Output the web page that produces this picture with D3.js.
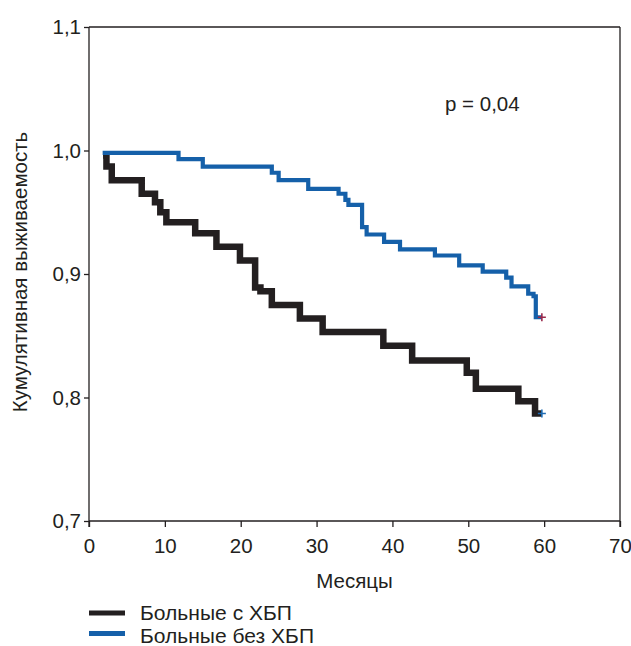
<!DOCTYPE html>
<meta charset="utf-8">
<head>
  <title>Kaplan-Meier</title>
</head>

<style>
body { margin: 0; background: #fff; }
text { font-family: "Liberation Sans", Arial, sans-serif; fill: #231f20; }
.axis path, .axis line { stroke: #231f20; stroke-width: 1.3; }
</style>

<body>
  <svg width="631" height="646"></svg>

  <script src="https://cdnjs.cloudflare.com/ajax/libs/d3/7.8.5/d3.min.js"></script>
  <script>
// months and cumulative survival
var ckdMonths = [1.85, 2.3, 3.0, 6.95, 8.7, 9.4, 10.2, 14.0, 16.8, 19.9, 21.9, 22.6, 24.1, 27.8, 30.8, 38.8, 42.6, 49.8, 51.0, 56.6, 58.8, 59.7]
var ckdSurv   = [0.996, 0.987, 0.976, 0.965, 0.958, 0.950, 0.942, 0.933, 0.922, 0.911, 0.889, 0.886, 0.875, 0.864, 0.853, 0.842, 0.830, 0.820, 0.807, 0.797, 0.787, 0.787]

var noCkdMonths = [1.8, 11.8, 15.0, 24.1, 25.0, 28.9, 32.9, 33.8, 34.2, 36.0, 36.6, 38.9, 41.0, 45.6, 48.8, 51.9, 55.0, 55.7, 57.9, 58.6, 58.9, 59.7]
var noCkdSurv   = [0.998, 0.993, 0.987, 0.982, 0.976, 0.969, 0.965, 0.960, 0.956, 0.938, 0.932, 0.926, 0.920, 0.915, 0.907, 0.902, 0.897, 0.890, 0.884, 0.882, 0.865, 0.865]

var xTicks = [0, 10, 20, 30, 40, 50, 60, 70]
var yTicks = [0.7, 0.8, 0.9, 1.0, 1.1]
var legendLabels = ['Больные с ХБП', 'Больные без ХБП']

var fs = 20.5

var svg = d3.select('svg')
var x = d3.scaleLinear().domain([0, 70]).range([89, 620])
var y = d3.scaleLinear().domain([0.7, 1.1]).range([521, 27])

var fmt = function(d) { return d3.format('.1f')(d).replace('.', ',') }

svg.append('g')
  .attr('class', 'axis')
  .attr('transform', 'translate(0,521)')
  .call(d3.axisBottom(x).tickValues(xTicks).tickSize(6).tickPadding(11).tickSizeOuter(0))
  .call(g => g.selectAll('text').attr('font-size', fs))
  .call(g => g.select('.domain').attr('d', 'M89,0H620'))

svg.append('g')
  .attr('class', 'axis')
  .attr('transform', 'translate(89,0)')
  .call(d3.axisLeft(y).tickValues(yTicks).tickFormat(fmt).tickSize(5).tickPadding(3).tickSizeOuter(0))
  .call(g => g.selectAll('text').attr('font-size', fs))
  .call(g => g.select('.domain').attr('d', 'M0,27V527'))

// top and right frame
svg.append('line').attr('x1', 89).attr('x2', 620).attr('y1', 27).attr('y2', 27)
  .attr('stroke', '#231f20').attr('stroke-width', 1.3)
svg.append('line').attr('x1', 620).attr('x2', 620).attr('y1', 27).attr('y2', 527)
  .attr('stroke', '#231f20').attr('stroke-width', 1.3)

var line = d3.line()
  .x(d => x(d[0]))
  .y(d => y(d[1]))
  .curve(d3.curveStepAfter)

var ckd = d3.zip(ckdMonths, ckdSurv)
var noCkd = d3.zip(noCkdMonths, noCkdSurv)

svg.append('path').datum(ckd).attr('d', line)
  .attr('fill', 'none').attr('stroke', '#231f20').attr('stroke-width', 6.5)
svg.append('path').datum(noCkd).attr('d', line)
  .attr('fill', 'none').attr('stroke', '#1560a9').attr('stroke-width', 4.2)

// censor marks at the ends
function plus(pt, color) {
  var cx = x(pt[0]), cy = y(pt[1])
  svg.append('path')
    .attr('d', 'M' + (cx - 4) + ',' + cy + 'H' + (cx + 4) + 'M' + cx + ',' + (cy - 4) + 'V' + (cy + 4))
    .attr('stroke', color).attr('stroke-width', 1.6)
}
plus(noCkd[noCkd.length - 1], '#9a2a4c')
plus(ckd[ckd.length - 1], '#1f6db5')

svg.append('text').attr('x', 445).attr('y', 111).attr('font-size', fs).text('p = 0,04')

svg.append('text').attr('x', x(35)).attr('y', 588).attr('text-anchor', 'middle')
  .attr('font-size', fs).text('Месяцы')

svg.append('text')
  .attr('transform', 'translate(27,' + 272 + ') rotate(-90)')
  .attr('text-anchor', 'middle').attr('font-size', fs)
  .text('Кумулятивная выживаемость')

var legendColors = ['#231f20', '#1560a9']
var leg = svg.selectAll('.leg').data(legendLabels).enter().append('g')
  .attr('class', 'leg')
leg.append('line').attr('x1', 89).attr('x2', 125)
  .attr('y1', (d, i) => 613 + i * 20.5).attr('y2', (d, i) => 613 + i * 20.5)
  .attr('stroke', (d, i) => legendColors[i]).attr('stroke-width', 5)
leg.append('text').attr('x', 140).attr('y', (d, i) => 620 + i * 22.5)
  .attr('font-size', 19.5).attr('textLength', (d, i) => i ? 174 : 152)
  .attr('lengthAdjust', 'spacingAndGlyphs').text(d => d)
  </script>
</body>
</html>
